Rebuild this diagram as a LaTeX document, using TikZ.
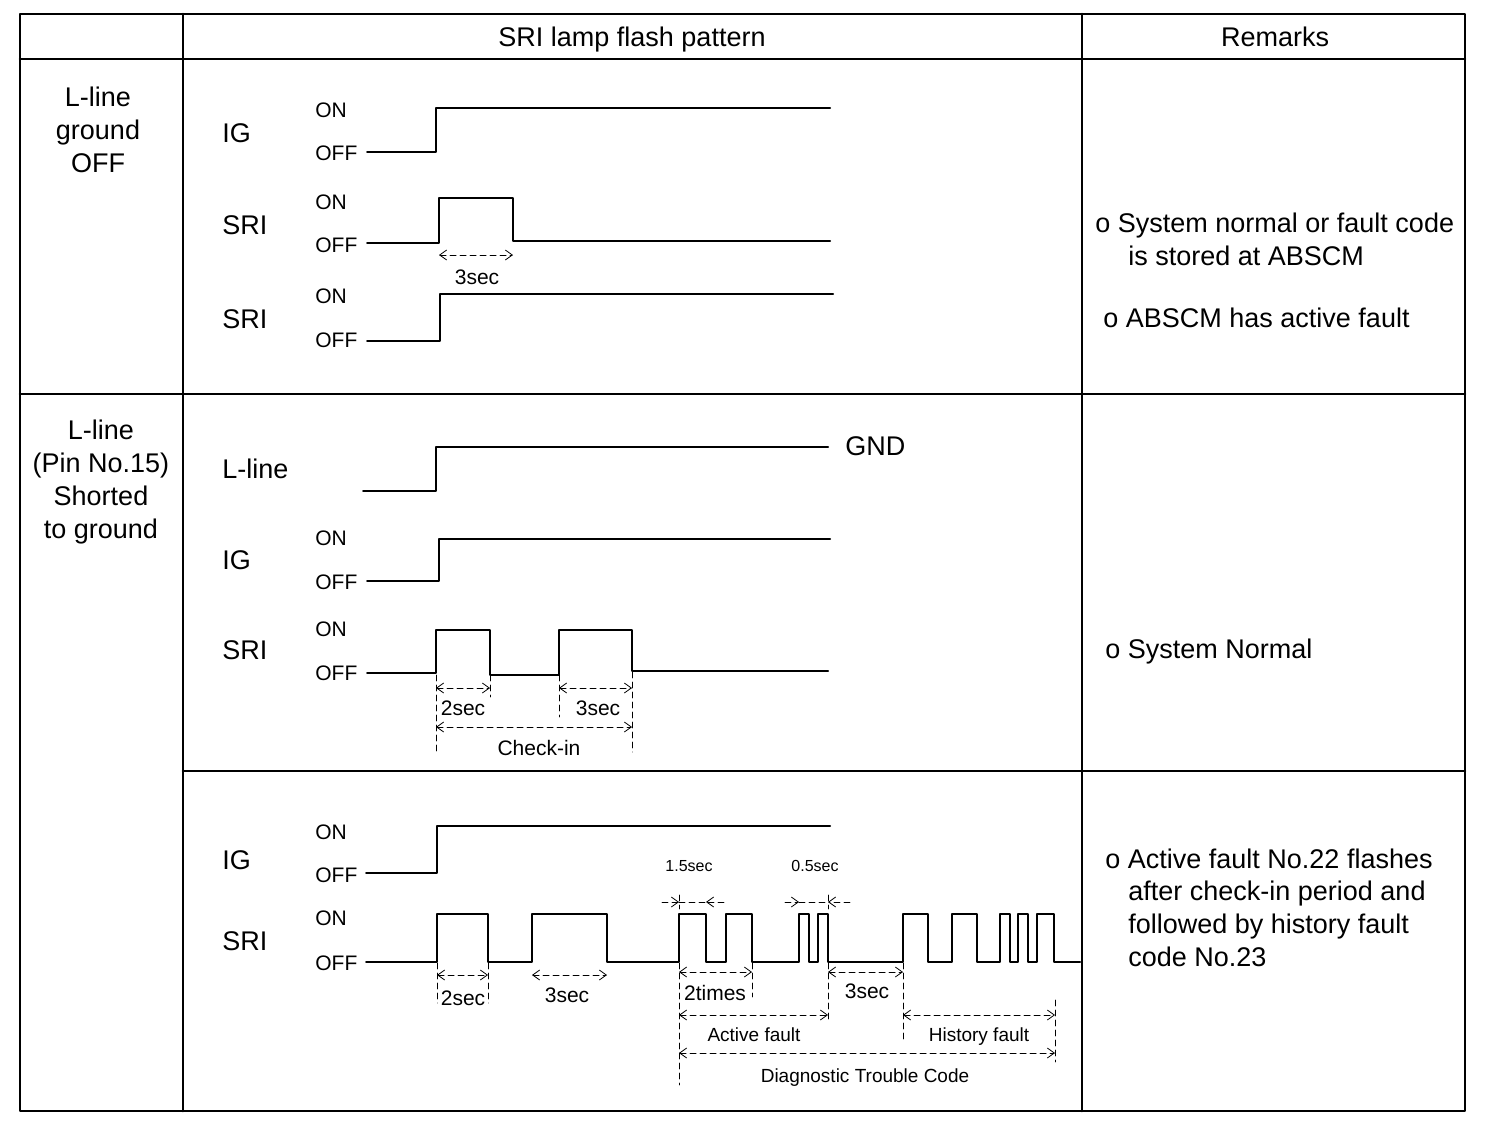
\documentclass[tikz,border=0pt]{standalone}
\usepackage{fontspec}
\setmainfont{Liberation Sans}
\usetikzlibrary{arrows.meta}
\begin{document}
\begin{tikzpicture}[x=0.5pt,y=-0.5pt,line join=round,line cap=round,
	>={Straight Barb[length=3.5pt,width=5pt]},
	frame/.style={line width=1.3pt},
	sig/.style={line width=1pt},
	dim/.style={densely dashed,line width=.4pt,<->},
	ext/.style={densely dashed,line width=.4pt},
	txt/.style={font=\fontsize{13.5}{16.5}\selectfont,inner sep=0pt},
	rem/.style={txt,anchor=base west},
	lvl/.style={font=\fontsize{10.5}{12}\selectfont,inner sep=0pt,anchor=west},
	tsec/.style={font=\fontsize{10.5}{12}\selectfont,inner sep=0pt},
	tim/.style={font=\fontsize{9.5}{11}\selectfont,inner sep=0pt,anchor=base},
	tmini/.style={font=\fontsize{8}{9}\selectfont,inner sep=0pt}]
	\useasboundingbox (0,0) rectangle (1504,1126);
	%Khung bang
	\draw[frame] (20,14) rectangle (1465,1111);
	\draw[frame] (20,59)--(1465,59) (20,394)--(1465,394) (183,771)--(1465,771);
	\draw[frame] (183,14)--(183,1111) (1082,14)--(1082,1111);
	\node[txt,anchor=base] (hpat) at (632,46) {SRI lamp flash pattern};
	\node[txt,anchor=base] (hrem) at (1275,46) {Remarks};
	%Cot trai
	\node[txt,align=center] (c1) at (98,130) {L-line\\ground\\OFF};
	\node[txt,align=center] (c2) at (101,482) {L-line\\(Pin No.15)\\Shorted\\to ground};
	%Hang 1
	\node[txt,anchor=west] (ig1) at (222,133) {IG};
	\node[lvl] (on1) at (315,110) {ON};
	\node[lvl] (off1) at (315,153) {OFF};
	\draw[sig] (367,152)--(436,152)--(436,108)--(830,108);
	\node[txt,anchor=west] (sri1) at (222,225) {SRI};
	\node[lvl] (on2) at (315,202) {ON};
	\node[lvl] (off2) at (315,245) {OFF};
	\draw[sig] (367,243)--(439,243)--(439,198)--(513,198)--(513,241)--(830,241);
	\draw[dim] (439,255)--(513,255);
	\node[tsec] (t1) at (477,277) {3sec};
	\node[txt,anchor=west] (sri2) at (222,319) {SRI};
	\node[lvl] (on3) at (315,296) {ON};
	\node[lvl] (off3) at (315,340) {OFF};
	\draw[sig] (367,341)--(440,341)--(440,294)--(833,294);
	\node[rem] (r1) at (1095,232) {o System normal or fault code};
	\node[rem] (r2) at (1128,265) {is stored at ABSCM};
	\node[rem] (r3) at (1103,327) {o ABSCM has active fault};
	%Hang 2
	\node[txt,anchor=west] (ll) at (222,469) {L-line};
	\draw[sig] (363,491)--(436,491)--(436,447)--(828,447);
	\node[txt,anchor=west] (gnd) at (845,446) {GND};
	\node[txt,anchor=west] (ig2) at (222,560) {IG};
	\node[lvl] (on4) at (315,538) {ON};
	\node[lvl] (off4) at (315,582) {OFF};
	\draw[sig] (367,581)--(439,581)--(439,539)--(830,539);
	\node[txt,anchor=west] (sri3) at (222,650) {SRI};
	\node[lvl] (on5) at (315,629) {ON};
	\node[lvl] (off5) at (315,673) {OFF};
	\draw[sig] (367,673)--(436,673)--(436,630)--(490,630)--(490,675)--(559,675)--(559,630)
		--(632,630)--(632,671)--(828,671);
	\draw[ext] (436,675)--(436,752) (490,675)--(490,697) (559,675)--(559,717) (632,672)--(632,752);
	\draw[dim] (436,688)--(490,688);
	\draw[dim] (559,688)--(632,688);
	\draw[dim] (436,727)--(632,727);
	\node[tsec] (t2) at (463,708) {2sec};
	\node[tsec] (t3) at (598,708) {3sec};
	\node[tsec] (t4) at (539,748) {Check-in};
	\node[rem] (r4) at (1105,658) {o System Normal};
	%Hang 3
	\node[txt,anchor=west] (ig3) at (222,860) {IG};
	\node[lvl] (on6) at (315,832) {ON};
	\node[lvl] (off6) at (315,875) {OFF};
	\draw[sig] (366,873)--(437,873)--(437,826)--(830,826);
	\node[txt,anchor=west] (sri4) at (222,941) {SRI};
	\node[lvl] (on7) at (315,918) {ON};
	\node[lvl] (off7) at (315,963) {OFF};
	\draw[sig] (366,962)
		\foreach \a/\b in {437/488,532/607,679/706,726/752,799/809,818/828,903/928,952/977,1000/1010,1018/1028,1037/1054}
		{--(\a,962)--(\a,914)--(\b,914)--(\b,962)}
		--(1080,962);
	%Kich thuoc
	\draw[ext] (437,963)--(437,1003) (488,963)--(488,1003);
	\draw[dim] (437,975)--(488,975);
	\node[tsec] (t5) at (463,998) {2sec};
	\draw[dim] (532,975)--(607,975);
	\node[tsec] (t6) at (567,995) {3sec};
	\draw[ext] (679,963)--(679,1085) (752,963)--(752,997) (828,963)--(828,1022)
		(903,963)--(903,1040) (1055,1000)--(1055,1062);
	\draw[dim] (679,972)--(752,972);
	\node[tsec] (t7) at (715,993) {2times};
	\draw[dim] (828,972)--(903,972);
	\node[tsec] (t8) at (867,991) {3sec};
	\draw[dim] (679,1015)--(828,1015);
	\node[tim] (t9) at (754,1041) {Active fault};
	\draw[dim] (903,1015)--(1055,1015);
	\node[tim] (t10) at (979,1041) {History fault};
	\draw[dim] (679,1053)--(1055,1053);
	\node[tim] (t11) at (865,1082) {Diagnostic Trouble Code};
	%1.5sec va 0.5sec
	\draw[ext,->] (662,902)--(679,902);
	\draw[ext,->] (724,902)--(706,902);
	\draw[ext] (679,902)--(706,902) (679,895)--(679,909);
	\node[tmini] (t12) at (689,866) {1.5sec};
	\draw[ext,->] (785,902)--(799,902);
	\draw[ext,->] (850,902)--(828,902);
	\draw[ext] (799,902)--(828,902) (828,895)--(828,909);
	\node[tmini] (t13) at (815,866) {0.5sec};
	\node[rem] (r5) at (1105,868) {o Active fault No.22 flashes};
	\node[rem] (r6) at (1128,900) {after check-in period and};
	\node[rem] (r7) at (1128,933) {followed by history fault};
	\node[rem] (r8) at (1128,966) {code No.23};
\end{tikzpicture}
\end{document}
